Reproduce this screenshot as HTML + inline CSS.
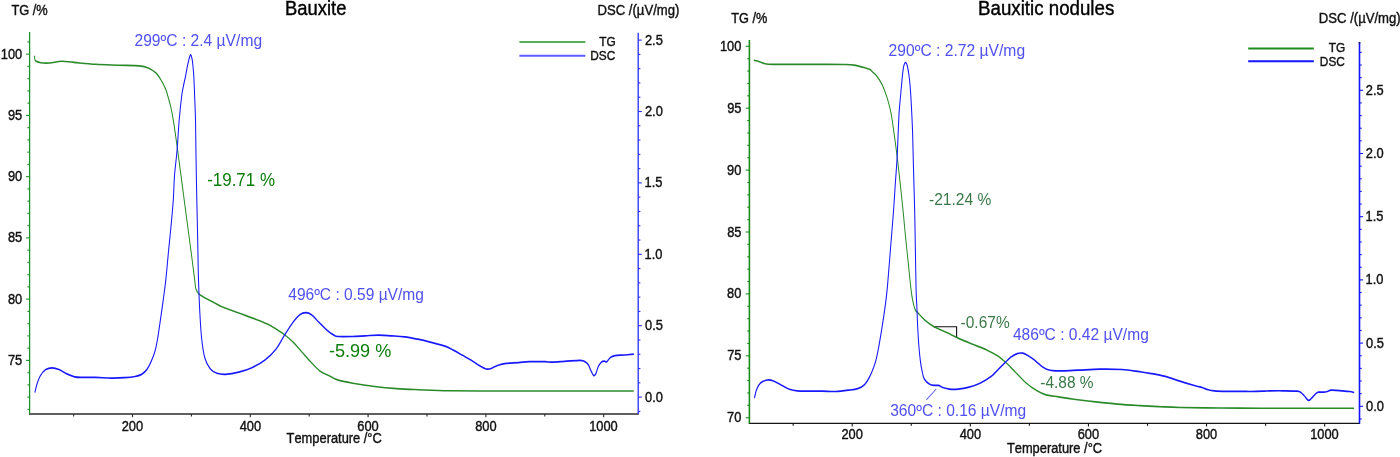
<!DOCTYPE html>
<html><head><meta charset="utf-8"><title>Bauxite TG-DSC</title>
<style>
html,body{margin:0;padding:0;background:#fff;width:1400px;height:457px;overflow:hidden}
svg{display:block}
text{font-family:"Liberation Sans",Arial,sans-serif;font-kerning:none;white-space:pre}
</style></head><body>
<svg width="1400" height="457" viewBox="0 0 1400 457">
<rect width="1400" height="457" fill="#fff"/>
<line x1="29" y1="414" x2="638.8" y2="414" stroke="#2a2a2a" stroke-width="1.6"/>
<line x1="73.6" y1="414" x2="73.6" y2="416.4" stroke="#2a2a2a" stroke-width="1.1"/>
<line x1="132.5" y1="414" x2="132.5" y2="417.2" stroke="#2a2a2a" stroke-width="1.1"/>
<text x="121.71" y="430.5" font-size="13.94" fill="#111" stroke="#111" stroke-width="0.4" textLength="21.44" lengthAdjust="spacingAndGlyphs">200</text>
<line x1="191.4" y1="414" x2="191.4" y2="416.4" stroke="#2a2a2a" stroke-width="1.1"/>
<line x1="250.3" y1="414" x2="250.3" y2="417.2" stroke="#2a2a2a" stroke-width="1.1"/>
<text x="239.68" y="430.5" font-size="13.94" fill="#111" stroke="#111" stroke-width="0.4" textLength="21.44" lengthAdjust="spacingAndGlyphs">400</text>
<line x1="309.2" y1="414" x2="309.2" y2="416.4" stroke="#2a2a2a" stroke-width="1.1"/>
<line x1="368.1" y1="414" x2="368.1" y2="417.2" stroke="#2a2a2a" stroke-width="1.1"/>
<text x="357.3" y="430.5" font-size="13.94" fill="#111" stroke="#111" stroke-width="0.4" textLength="21.44" lengthAdjust="spacingAndGlyphs">600</text>
<line x1="427" y1="414" x2="427" y2="416.4" stroke="#2a2a2a" stroke-width="1.1"/>
<line x1="485.9" y1="414" x2="485.9" y2="417.2" stroke="#2a2a2a" stroke-width="1.1"/>
<text x="475.15" y="430.5" font-size="13.94" fill="#111" stroke="#111" stroke-width="0.4" textLength="21.44" lengthAdjust="spacingAndGlyphs">800</text>
<line x1="544.8" y1="414" x2="544.8" y2="416.4" stroke="#2a2a2a" stroke-width="1.1"/>
<line x1="603.7" y1="414" x2="603.7" y2="417.2" stroke="#2a2a2a" stroke-width="1.1"/>
<text x="589.17" y="430.5" font-size="13.94" fill="#111" stroke="#111" stroke-width="0.4" textLength="28.59" lengthAdjust="spacingAndGlyphs">1000</text>
<line x1="29.6" y1="32" x2="29.6" y2="414" stroke="#22922a" stroke-width="1.3"/>
<line x1="27.4" y1="409.4" x2="29.6" y2="409.4" stroke="#22922a" stroke-width="1.1"/>
<line x1="27.4" y1="397.15" x2="29.6" y2="397.15" stroke="#22922a" stroke-width="1.1"/>
<line x1="27.4" y1="384.9" x2="29.6" y2="384.9" stroke="#22922a" stroke-width="1.1"/>
<line x1="27.4" y1="372.65" x2="29.6" y2="372.65" stroke="#22922a" stroke-width="1.1"/>
<line x1="26" y1="360.4" x2="29.6" y2="360.4" stroke="#22922a" stroke-width="1.1"/>
<text x="7.95" y="364.9" font-size="13.94" fill="#111" stroke="#111" stroke-width="0.4" textLength="14.29" lengthAdjust="spacingAndGlyphs">75</text>
<line x1="27.4" y1="348.15" x2="29.6" y2="348.15" stroke="#22922a" stroke-width="1.1"/>
<line x1="27.4" y1="335.9" x2="29.6" y2="335.9" stroke="#22922a" stroke-width="1.1"/>
<line x1="27.4" y1="323.65" x2="29.6" y2="323.65" stroke="#22922a" stroke-width="1.1"/>
<line x1="27.4" y1="311.4" x2="29.6" y2="311.4" stroke="#22922a" stroke-width="1.1"/>
<line x1="26" y1="299.15" x2="29.6" y2="299.15" stroke="#22922a" stroke-width="1.1"/>
<text x="7.91" y="303.65" font-size="13.94" fill="#111" stroke="#111" stroke-width="0.4" textLength="14.29" lengthAdjust="spacingAndGlyphs">80</text>
<line x1="27.4" y1="286.9" x2="29.6" y2="286.9" stroke="#22922a" stroke-width="1.1"/>
<line x1="27.4" y1="274.65" x2="29.6" y2="274.65" stroke="#22922a" stroke-width="1.1"/>
<line x1="27.4" y1="262.4" x2="29.6" y2="262.4" stroke="#22922a" stroke-width="1.1"/>
<line x1="27.4" y1="250.15" x2="29.6" y2="250.15" stroke="#22922a" stroke-width="1.1"/>
<line x1="26" y1="237.9" x2="29.6" y2="237.9" stroke="#22922a" stroke-width="1.1"/>
<text x="7.95" y="242.4" font-size="13.94" fill="#111" stroke="#111" stroke-width="0.4" textLength="14.29" lengthAdjust="spacingAndGlyphs">85</text>
<line x1="27.4" y1="225.65" x2="29.6" y2="225.65" stroke="#22922a" stroke-width="1.1"/>
<line x1="27.4" y1="213.4" x2="29.6" y2="213.4" stroke="#22922a" stroke-width="1.1"/>
<line x1="27.4" y1="201.15" x2="29.6" y2="201.15" stroke="#22922a" stroke-width="1.1"/>
<line x1="27.4" y1="188.9" x2="29.6" y2="188.9" stroke="#22922a" stroke-width="1.1"/>
<line x1="26" y1="176.65" x2="29.6" y2="176.65" stroke="#22922a" stroke-width="1.1"/>
<text x="7.91" y="181.15" font-size="13.94" fill="#111" stroke="#111" stroke-width="0.4" textLength="14.29" lengthAdjust="spacingAndGlyphs">90</text>
<line x1="27.4" y1="164.4" x2="29.6" y2="164.4" stroke="#22922a" stroke-width="1.1"/>
<line x1="27.4" y1="152.15" x2="29.6" y2="152.15" stroke="#22922a" stroke-width="1.1"/>
<line x1="27.4" y1="139.9" x2="29.6" y2="139.9" stroke="#22922a" stroke-width="1.1"/>
<line x1="27.4" y1="127.65" x2="29.6" y2="127.65" stroke="#22922a" stroke-width="1.1"/>
<line x1="26" y1="115.4" x2="29.6" y2="115.4" stroke="#22922a" stroke-width="1.1"/>
<text x="7.95" y="119.9" font-size="13.94" fill="#111" stroke="#111" stroke-width="0.4" textLength="14.29" lengthAdjust="spacingAndGlyphs">95</text>
<line x1="27.4" y1="103.15" x2="29.6" y2="103.15" stroke="#22922a" stroke-width="1.1"/>
<line x1="27.4" y1="90.9" x2="29.6" y2="90.9" stroke="#22922a" stroke-width="1.1"/>
<line x1="27.4" y1="78.65" x2="29.6" y2="78.65" stroke="#22922a" stroke-width="1.1"/>
<line x1="27.4" y1="66.4" x2="29.6" y2="66.4" stroke="#22922a" stroke-width="1.1"/>
<line x1="26" y1="54.15" x2="29.6" y2="54.15" stroke="#22922a" stroke-width="1.1"/>
<text x="0.76" y="58.65" font-size="13.94" fill="#111" stroke="#111" stroke-width="0.4" textLength="21.44" lengthAdjust="spacingAndGlyphs">100</text>
<line x1="27.4" y1="41.9" x2="29.6" y2="41.9" stroke="#22922a" stroke-width="1.1"/>
<line x1="638.2" y1="32.7" x2="638.2" y2="414" stroke="#2b2bff" stroke-width="1.3"/>
<line x1="638.2" y1="411.38" x2="640.4" y2="411.38" stroke="#2b2bff" stroke-width="1.1"/>
<line x1="638.2" y1="397.1" x2="641.8" y2="397.1" stroke="#2b2bff" stroke-width="1.1"/>
<text x="645.1" y="401.5" font-size="13.94" fill="#111" stroke="#111" stroke-width="0.4" textLength="17.86" lengthAdjust="spacingAndGlyphs">0.0</text>
<line x1="638.2" y1="382.82" x2="640.4" y2="382.82" stroke="#2b2bff" stroke-width="1.1"/>
<line x1="638.2" y1="368.54" x2="640.4" y2="368.54" stroke="#2b2bff" stroke-width="1.1"/>
<line x1="638.2" y1="354.26" x2="640.4" y2="354.26" stroke="#2b2bff" stroke-width="1.1"/>
<line x1="638.2" y1="339.98" x2="640.4" y2="339.98" stroke="#2b2bff" stroke-width="1.1"/>
<line x1="638.2" y1="325.7" x2="641.8" y2="325.7" stroke="#2b2bff" stroke-width="1.1"/>
<text x="645.1" y="330.1" font-size="13.94" fill="#111" stroke="#111" stroke-width="0.4" textLength="17.86" lengthAdjust="spacingAndGlyphs">0.5</text>
<line x1="638.2" y1="311.42" x2="640.4" y2="311.42" stroke="#2b2bff" stroke-width="1.1"/>
<line x1="638.2" y1="297.14" x2="640.4" y2="297.14" stroke="#2b2bff" stroke-width="1.1"/>
<line x1="638.2" y1="282.86" x2="640.4" y2="282.86" stroke="#2b2bff" stroke-width="1.1"/>
<line x1="638.2" y1="268.58" x2="640.4" y2="268.58" stroke="#2b2bff" stroke-width="1.1"/>
<line x1="638.2" y1="254.3" x2="641.8" y2="254.3" stroke="#2b2bff" stroke-width="1.1"/>
<text x="644.62" y="258.7" font-size="13.94" fill="#111" stroke="#111" stroke-width="0.4" textLength="17.86" lengthAdjust="spacingAndGlyphs">1.0</text>
<line x1="638.2" y1="240.02" x2="640.4" y2="240.02" stroke="#2b2bff" stroke-width="1.1"/>
<line x1="638.2" y1="225.74" x2="640.4" y2="225.74" stroke="#2b2bff" stroke-width="1.1"/>
<line x1="638.2" y1="211.46" x2="640.4" y2="211.46" stroke="#2b2bff" stroke-width="1.1"/>
<line x1="638.2" y1="197.18" x2="640.4" y2="197.18" stroke="#2b2bff" stroke-width="1.1"/>
<line x1="638.2" y1="182.9" x2="641.8" y2="182.9" stroke="#2b2bff" stroke-width="1.1"/>
<text x="644.62" y="187.3" font-size="13.94" fill="#111" stroke="#111" stroke-width="0.4" textLength="17.86" lengthAdjust="spacingAndGlyphs">1.5</text>
<line x1="638.2" y1="168.62" x2="640.4" y2="168.62" stroke="#2b2bff" stroke-width="1.1"/>
<line x1="638.2" y1="154.34" x2="640.4" y2="154.34" stroke="#2b2bff" stroke-width="1.1"/>
<line x1="638.2" y1="140.06" x2="640.4" y2="140.06" stroke="#2b2bff" stroke-width="1.1"/>
<line x1="638.2" y1="125.78" x2="640.4" y2="125.78" stroke="#2b2bff" stroke-width="1.1"/>
<line x1="638.2" y1="111.5" x2="641.8" y2="111.5" stroke="#2b2bff" stroke-width="1.1"/>
<text x="644.95" y="115.9" font-size="13.94" fill="#111" stroke="#111" stroke-width="0.4" textLength="17.86" lengthAdjust="spacingAndGlyphs">2.0</text>
<line x1="638.2" y1="97.22" x2="640.4" y2="97.22" stroke="#2b2bff" stroke-width="1.1"/>
<line x1="638.2" y1="82.94" x2="640.4" y2="82.94" stroke="#2b2bff" stroke-width="1.1"/>
<line x1="638.2" y1="68.66" x2="640.4" y2="68.66" stroke="#2b2bff" stroke-width="1.1"/>
<line x1="638.2" y1="54.38" x2="640.4" y2="54.38" stroke="#2b2bff" stroke-width="1.1"/>
<line x1="638.2" y1="40.1" x2="641.8" y2="40.1" stroke="#2b2bff" stroke-width="1.1"/>
<text x="644.95" y="44.5" font-size="13.94" fill="#111" stroke="#111" stroke-width="0.4" textLength="17.86" lengthAdjust="spacingAndGlyphs">2.5</text>
<line x1="748.8" y1="423.4" x2="1360.1" y2="423.4" stroke="#141414" stroke-width="1.4"/>
<line x1="793.14" y1="423.4" x2="793.14" y2="425.8" stroke="#141414" stroke-width="1.1"/>
<line x1="852.2" y1="423.4" x2="852.2" y2="426.6" stroke="#141414" stroke-width="1.1"/>
<text x="841.41" y="438.9" font-size="13.94" fill="#111" stroke="#111" stroke-width="0.4" textLength="21.44" lengthAdjust="spacingAndGlyphs">200</text>
<line x1="911.26" y1="423.4" x2="911.26" y2="425.8" stroke="#141414" stroke-width="1.1"/>
<line x1="970.32" y1="423.4" x2="970.32" y2="426.6" stroke="#141414" stroke-width="1.1"/>
<text x="959.7" y="438.9" font-size="13.94" fill="#111" stroke="#111" stroke-width="0.4" textLength="21.44" lengthAdjust="spacingAndGlyphs">400</text>
<line x1="1029.38" y1="423.4" x2="1029.38" y2="425.8" stroke="#141414" stroke-width="1.1"/>
<line x1="1088.44" y1="423.4" x2="1088.44" y2="426.6" stroke="#141414" stroke-width="1.1"/>
<text x="1077.64" y="438.9" font-size="13.94" fill="#111" stroke="#111" stroke-width="0.4" textLength="21.44" lengthAdjust="spacingAndGlyphs">600</text>
<line x1="1147.5" y1="423.4" x2="1147.5" y2="425.8" stroke="#141414" stroke-width="1.1"/>
<line x1="1206.56" y1="423.4" x2="1206.56" y2="426.6" stroke="#141414" stroke-width="1.1"/>
<text x="1195.81" y="438.9" font-size="13.94" fill="#111" stroke="#111" stroke-width="0.4" textLength="21.44" lengthAdjust="spacingAndGlyphs">800</text>
<line x1="1265.62" y1="423.4" x2="1265.62" y2="425.8" stroke="#141414" stroke-width="1.1"/>
<line x1="1324.68" y1="423.4" x2="1324.68" y2="426.6" stroke="#141414" stroke-width="1.1"/>
<text x="1310.15" y="438.9" font-size="13.94" fill="#111" stroke="#111" stroke-width="0.4" textLength="28.59" lengthAdjust="spacingAndGlyphs">1000</text>
<line x1="749.4" y1="40.1" x2="749.4" y2="423.4" stroke="#1c8c1c" stroke-width="1.6"/>
<line x1="745.8" y1="417.7" x2="749.4" y2="417.7" stroke="#1c8c1c" stroke-width="1.1"/>
<text x="727.11" y="422.2" font-size="13.94" fill="#111" stroke="#111" stroke-width="0.4" textLength="14.29" lengthAdjust="spacingAndGlyphs">70</text>
<line x1="747.2" y1="405.32" x2="749.4" y2="405.32" stroke="#1c8c1c" stroke-width="1.1"/>
<line x1="747.2" y1="392.94" x2="749.4" y2="392.94" stroke="#1c8c1c" stroke-width="1.1"/>
<line x1="747.2" y1="380.56" x2="749.4" y2="380.56" stroke="#1c8c1c" stroke-width="1.1"/>
<line x1="747.2" y1="368.18" x2="749.4" y2="368.18" stroke="#1c8c1c" stroke-width="1.1"/>
<line x1="745.8" y1="355.8" x2="749.4" y2="355.8" stroke="#1c8c1c" stroke-width="1.1"/>
<text x="727.15" y="360.3" font-size="13.94" fill="#111" stroke="#111" stroke-width="0.4" textLength="14.29" lengthAdjust="spacingAndGlyphs">75</text>
<line x1="747.2" y1="343.42" x2="749.4" y2="343.42" stroke="#1c8c1c" stroke-width="1.1"/>
<line x1="747.2" y1="331.04" x2="749.4" y2="331.04" stroke="#1c8c1c" stroke-width="1.1"/>
<line x1="747.2" y1="318.66" x2="749.4" y2="318.66" stroke="#1c8c1c" stroke-width="1.1"/>
<line x1="747.2" y1="306.28" x2="749.4" y2="306.28" stroke="#1c8c1c" stroke-width="1.1"/>
<line x1="745.8" y1="293.9" x2="749.4" y2="293.9" stroke="#1c8c1c" stroke-width="1.1"/>
<text x="727.11" y="298.4" font-size="13.94" fill="#111" stroke="#111" stroke-width="0.4" textLength="14.29" lengthAdjust="spacingAndGlyphs">80</text>
<line x1="747.2" y1="281.52" x2="749.4" y2="281.52" stroke="#1c8c1c" stroke-width="1.1"/>
<line x1="747.2" y1="269.14" x2="749.4" y2="269.14" stroke="#1c8c1c" stroke-width="1.1"/>
<line x1="747.2" y1="256.76" x2="749.4" y2="256.76" stroke="#1c8c1c" stroke-width="1.1"/>
<line x1="747.2" y1="244.38" x2="749.4" y2="244.38" stroke="#1c8c1c" stroke-width="1.1"/>
<line x1="745.8" y1="232" x2="749.4" y2="232" stroke="#1c8c1c" stroke-width="1.1"/>
<text x="727.15" y="236.5" font-size="13.94" fill="#111" stroke="#111" stroke-width="0.4" textLength="14.29" lengthAdjust="spacingAndGlyphs">85</text>
<line x1="747.2" y1="219.62" x2="749.4" y2="219.62" stroke="#1c8c1c" stroke-width="1.1"/>
<line x1="747.2" y1="207.24" x2="749.4" y2="207.24" stroke="#1c8c1c" stroke-width="1.1"/>
<line x1="747.2" y1="194.86" x2="749.4" y2="194.86" stroke="#1c8c1c" stroke-width="1.1"/>
<line x1="747.2" y1="182.48" x2="749.4" y2="182.48" stroke="#1c8c1c" stroke-width="1.1"/>
<line x1="745.8" y1="170.1" x2="749.4" y2="170.1" stroke="#1c8c1c" stroke-width="1.1"/>
<text x="727.11" y="174.6" font-size="13.94" fill="#111" stroke="#111" stroke-width="0.4" textLength="14.29" lengthAdjust="spacingAndGlyphs">90</text>
<line x1="747.2" y1="157.72" x2="749.4" y2="157.72" stroke="#1c8c1c" stroke-width="1.1"/>
<line x1="747.2" y1="145.34" x2="749.4" y2="145.34" stroke="#1c8c1c" stroke-width="1.1"/>
<line x1="747.2" y1="132.96" x2="749.4" y2="132.96" stroke="#1c8c1c" stroke-width="1.1"/>
<line x1="747.2" y1="120.58" x2="749.4" y2="120.58" stroke="#1c8c1c" stroke-width="1.1"/>
<line x1="745.8" y1="108.2" x2="749.4" y2="108.2" stroke="#1c8c1c" stroke-width="1.1"/>
<text x="727.15" y="112.7" font-size="13.94" fill="#111" stroke="#111" stroke-width="0.4" textLength="14.29" lengthAdjust="spacingAndGlyphs">95</text>
<line x1="747.2" y1="95.82" x2="749.4" y2="95.82" stroke="#1c8c1c" stroke-width="1.1"/>
<line x1="747.2" y1="83.44" x2="749.4" y2="83.44" stroke="#1c8c1c" stroke-width="1.1"/>
<line x1="747.2" y1="71.06" x2="749.4" y2="71.06" stroke="#1c8c1c" stroke-width="1.1"/>
<line x1="747.2" y1="58.68" x2="749.4" y2="58.68" stroke="#1c8c1c" stroke-width="1.1"/>
<line x1="745.8" y1="46.3" x2="749.4" y2="46.3" stroke="#1c8c1c" stroke-width="1.1"/>
<text x="719.96" y="50.8" font-size="13.94" fill="#111" stroke="#111" stroke-width="0.4" textLength="21.44" lengthAdjust="spacingAndGlyphs">100</text>
<line x1="1359.5" y1="41.9" x2="1359.5" y2="423.4" stroke="#1414ff" stroke-width="1.6"/>
<line x1="1359.5" y1="418.94" x2="1361.7" y2="418.94" stroke="#1414ff" stroke-width="1.1"/>
<line x1="1359.5" y1="406.3" x2="1363.1" y2="406.3" stroke="#1414ff" stroke-width="1.1"/>
<text x="1366" y="410.7" font-size="13.94" fill="#111" stroke="#111" stroke-width="0.4" textLength="17.86" lengthAdjust="spacingAndGlyphs">0.0</text>
<line x1="1359.5" y1="393.66" x2="1361.7" y2="393.66" stroke="#1414ff" stroke-width="1.1"/>
<line x1="1359.5" y1="381.02" x2="1361.7" y2="381.02" stroke="#1414ff" stroke-width="1.1"/>
<line x1="1359.5" y1="368.38" x2="1361.7" y2="368.38" stroke="#1414ff" stroke-width="1.1"/>
<line x1="1359.5" y1="355.74" x2="1361.7" y2="355.74" stroke="#1414ff" stroke-width="1.1"/>
<line x1="1359.5" y1="343.1" x2="1363.1" y2="343.1" stroke="#1414ff" stroke-width="1.1"/>
<text x="1366" y="347.5" font-size="13.94" fill="#111" stroke="#111" stroke-width="0.4" textLength="17.86" lengthAdjust="spacingAndGlyphs">0.5</text>
<line x1="1359.5" y1="330.46" x2="1361.7" y2="330.46" stroke="#1414ff" stroke-width="1.1"/>
<line x1="1359.5" y1="317.82" x2="1361.7" y2="317.82" stroke="#1414ff" stroke-width="1.1"/>
<line x1="1359.5" y1="305.18" x2="1361.7" y2="305.18" stroke="#1414ff" stroke-width="1.1"/>
<line x1="1359.5" y1="292.54" x2="1361.7" y2="292.54" stroke="#1414ff" stroke-width="1.1"/>
<line x1="1359.5" y1="279.9" x2="1363.1" y2="279.9" stroke="#1414ff" stroke-width="1.1"/>
<text x="1365.52" y="284.3" font-size="13.94" fill="#111" stroke="#111" stroke-width="0.4" textLength="17.86" lengthAdjust="spacingAndGlyphs">1.0</text>
<line x1="1359.5" y1="267.26" x2="1361.7" y2="267.26" stroke="#1414ff" stroke-width="1.1"/>
<line x1="1359.5" y1="254.62" x2="1361.7" y2="254.62" stroke="#1414ff" stroke-width="1.1"/>
<line x1="1359.5" y1="241.98" x2="1361.7" y2="241.98" stroke="#1414ff" stroke-width="1.1"/>
<line x1="1359.5" y1="229.34" x2="1361.7" y2="229.34" stroke="#1414ff" stroke-width="1.1"/>
<line x1="1359.5" y1="216.7" x2="1363.1" y2="216.7" stroke="#1414ff" stroke-width="1.1"/>
<text x="1365.52" y="221.1" font-size="13.94" fill="#111" stroke="#111" stroke-width="0.4" textLength="17.86" lengthAdjust="spacingAndGlyphs">1.5</text>
<line x1="1359.5" y1="204.06" x2="1361.7" y2="204.06" stroke="#1414ff" stroke-width="1.1"/>
<line x1="1359.5" y1="191.42" x2="1361.7" y2="191.42" stroke="#1414ff" stroke-width="1.1"/>
<line x1="1359.5" y1="178.78" x2="1361.7" y2="178.78" stroke="#1414ff" stroke-width="1.1"/>
<line x1="1359.5" y1="166.14" x2="1361.7" y2="166.14" stroke="#1414ff" stroke-width="1.1"/>
<line x1="1359.5" y1="153.5" x2="1363.1" y2="153.5" stroke="#1414ff" stroke-width="1.1"/>
<text x="1365.85" y="157.9" font-size="13.94" fill="#111" stroke="#111" stroke-width="0.4" textLength="17.86" lengthAdjust="spacingAndGlyphs">2.0</text>
<line x1="1359.5" y1="140.86" x2="1361.7" y2="140.86" stroke="#1414ff" stroke-width="1.1"/>
<line x1="1359.5" y1="128.22" x2="1361.7" y2="128.22" stroke="#1414ff" stroke-width="1.1"/>
<line x1="1359.5" y1="115.58" x2="1361.7" y2="115.58" stroke="#1414ff" stroke-width="1.1"/>
<line x1="1359.5" y1="102.94" x2="1361.7" y2="102.94" stroke="#1414ff" stroke-width="1.1"/>
<line x1="1359.5" y1="90.3" x2="1363.1" y2="90.3" stroke="#1414ff" stroke-width="1.1"/>
<text x="1365.85" y="94.7" font-size="13.94" fill="#111" stroke="#111" stroke-width="0.4" textLength="17.86" lengthAdjust="spacingAndGlyphs">2.5</text>
<line x1="1359.5" y1="77.66" x2="1361.7" y2="77.66" stroke="#1414ff" stroke-width="1.1"/>
<line x1="1359.5" y1="65.02" x2="1361.7" y2="65.02" stroke="#1414ff" stroke-width="1.1"/>
<line x1="1359.5" y1="52.38" x2="1361.7" y2="52.38" stroke="#1414ff" stroke-width="1.1"/>
<text x="285.09" y="15" font-size="19.31" fill="#000" stroke="#000" stroke-width="0.4" textLength="61.33" lengthAdjust="spacingAndGlyphs">Bauxite</text>
<text x="978.07" y="14.9" font-size="19.64" fill="#000" stroke="#000" stroke-width="0.4" textLength="136.21" lengthAdjust="spacingAndGlyphs">Bauxitic nodules</text>
<text x="11.41" y="14.6" font-size="13.92" fill="#111" stroke="#111" stroke-width="0.4" textLength="36.35" lengthAdjust="spacingAndGlyphs">TG /%</text>
<text x="731.21" y="22.7" font-size="13.8" fill="#111" stroke="#111" stroke-width="0.4" textLength="36.04" lengthAdjust="spacingAndGlyphs">TG /%</text>
<text x="597.52" y="14.8" font-size="14.23" fill="#111" stroke="#111" stroke-width="0.4" textLength="81.89" lengthAdjust="spacingAndGlyphs">DSC /(µV/mg)</text>
<text x="1318.82" y="22.7" font-size="14.23" fill="#111" stroke="#111" stroke-width="0.4" textLength="81.89" lengthAdjust="spacingAndGlyphs">DSC /(µV/mg)</text>
<text x="286.61" y="443.2" font-size="13.95" fill="#111" stroke="#111" stroke-width="0.4" textLength="95.18" lengthAdjust="spacingAndGlyphs">Temperature /°C</text>
<text x="1006.91" y="452.7" font-size="13.95" fill="#111" stroke="#111" stroke-width="0.4" textLength="95.18" lengthAdjust="spacingAndGlyphs">Temperature /°C</text>
<line x1="519.4" y1="41.9" x2="585.4" y2="41.9" stroke="#55ad55" stroke-width="2"/>
<line x1="519.4" y1="55.8" x2="585.4" y2="55.8" stroke="#5c5cff" stroke-width="2"/>
<text x="599.23" y="46.3" font-size="12.86" fill="#111" stroke="#111" stroke-width="0.4" textLength="16.46" lengthAdjust="spacingAndGlyphs">TG</text>
<text x="590.23" y="59.7" font-size="12.86" fill="#111" stroke="#111" stroke-width="0.4" textLength="25.02" lengthAdjust="spacingAndGlyphs">DSC</text>
<line x1="1248.2" y1="48.4" x2="1313.8" y2="48.4" stroke="#1f8c1f" stroke-width="2"/>
<line x1="1248.2" y1="61.3" x2="1313.8" y2="61.3" stroke="#1414ff" stroke-width="2"/>
<text x="1328.83" y="51.7" font-size="12.86" fill="#111" stroke="#111" stroke-width="0.4" textLength="16.46" lengthAdjust="spacingAndGlyphs">TG</text>
<text x="1319.83" y="65.5" font-size="12.86" fill="#111" stroke="#111" stroke-width="0.4" textLength="25.02" lengthAdjust="spacingAndGlyphs">DSC</text>
<text x="134.51" y="45.6" font-size="16.25" fill="#5050f0" textLength="127.59" lengthAdjust="spacingAndGlyphs">299ºC : 2.4 µV/mg</text>
<text x="288.24" y="300.3" font-size="16.17" fill="#5050f0" textLength="135.66" lengthAdjust="spacingAndGlyphs">496ºC : 0.59 µV/mg</text>
<text x="888.61" y="55.9" font-size="16.27" fill="#5050f0" textLength="136.5" lengthAdjust="spacingAndGlyphs">290ºC : 2.72 µV/mg</text>
<text x="890.21" y="415.9" font-size="16.21" fill="#5050f0" textLength="136" lengthAdjust="spacingAndGlyphs">360ºC : 0.16 µV/mg</text>
<text x="1012.94" y="340.2" font-size="16.2" fill="#5050f0" textLength="135.86" lengthAdjust="spacingAndGlyphs">486ºC : 0.42 µV/mg</text>
<text x="207.15" y="185.9" font-size="18.4" fill="#0a7d0a" textLength="67.86" lengthAdjust="spacingAndGlyphs">-19.71 %</text>
<text x="328.9" y="357.2" font-size="18.45" fill="#0a7d0a" textLength="62.35" lengthAdjust="spacingAndGlyphs">-5.99 %</text>
<text x="929.01" y="204.6" font-size="16.87" fill="#3a7848" textLength="62.25" lengthAdjust="spacingAndGlyphs">-21.24 %</text>
<text x="960.61" y="328.1" font-size="16.79" fill="#3a7848" textLength="49.04" lengthAdjust="spacingAndGlyphs">-0.67%</text>
<text x="1040.31" y="387.7" font-size="16.76" fill="#3a7848" textLength="53.24" lengthAdjust="spacingAndGlyphs">-4.88 %</text>
<line x1="1359.5" y1="41.9" x2="1359.5" y2="43.8" stroke="#202050" stroke-width="1.6"/>
<path d="M933.6,326.7 H956.6 V337.6" fill="none" stroke="#111" stroke-width="1.1"/>
<line x1="936.2" y1="389" x2="926.4" y2="399.8" stroke="#6a6af0" stroke-width="1.1"/>
<path transform="scale(1,1.6)" d="M34.4,35.25 C34.58,35.71 34.42,37.33 35.5,38 C36.58,38.67 38.53,39.02 40.9,39.25 C43.27,39.48 46.23,39.53 49.7,39.38 C53.17,39.22 57.68,38.37 61.7,38.31 C65.72,38.25 68.15,38.69 73.8,39 C79.45,39.31 88.32,39.9 95.6,40.19 C102.88,40.48 110.2,40.58 117.5,40.75 C124.8,40.92 134.28,40.91 139.4,41.19 C144.52,41.47 145.47,41.72 148.2,42.44 C150.93,43.16 153.62,44.19 155.8,45.5 C157.98,46.81 159.65,48.6 161.3,50.31 C162.95,52.02 164.67,54.25 165.7,55.75 C166.73,57.25 166.62,57.35 167.5,59.31 C168.38,61.27 169.98,64.68 171,67.5 C172.02,70.32 172.58,72.26 173.6,76.25 C174.62,80.24 175.93,86.18 177.1,91.44 C178.27,96.7 179.42,102.22 180.6,107.81 C181.78,113.41 183.02,119.4 184.2,125 C185.38,130.6 186.53,135.97 187.7,141.44 C188.87,146.91 190.03,152.22 191.2,157.81 C192.37,163.41 193.92,171.22 194.7,175 C195.48,178.78 195.18,179.04 195.9,180.5 C196.62,181.96 197.6,182.84 199,183.75 C200.4,184.66 201.97,185.11 204.3,185.94 C206.63,186.76 210.17,187.76 213,188.69 C215.83,189.61 217,190.34 221.3,191.5 C225.6,192.66 232.97,194.26 238.8,195.62 C244.63,196.99 251.2,198.44 256.3,199.69 C261.4,200.94 265.75,201.98 269.4,203.12 C273.05,204.27 275.65,205.53 278.2,206.56 C280.75,207.59 282.15,208.06 284.7,209.31 C287.25,210.56 290.58,212.24 293.5,214.06 C296.42,215.89 299.28,218.2 302.2,220.25 C305.12,222.3 308.07,224.44 311,226.37 C313.93,228.31 316.83,230.49 319.8,231.88 C322.77,233.26 325.85,233.76 328.8,234.69 C331.75,235.61 333.5,236.64 337.5,237.44 C341.5,238.24 346.6,238.81 352.8,239.5 C359,240.19 367.4,241 374.7,241.56 C382,242.12 389.3,242.54 396.6,242.88 C403.9,243.21 409.6,243.33 418.5,243.56 C427.4,243.79 436.42,244.11 450,244.25 C463.58,244.39 484.17,244.35 500,244.38 C515.83,244.4 530,244.38 545,244.38 C560,244.38 575.27,244.38 590,244.38 C604.73,244.38 626.17,244.38 633.4,244.38" fill="none" stroke="#2a8a2a" stroke-width="1" stroke-linejoin="round" stroke-linecap="round"/>
<path transform="scale(1,1.6)" d="M35,244.94 C35.37,244.04 36.28,241.27 37.2,239.56 C38.12,237.85 39.07,236.12 40.5,234.69 C41.93,233.25 43.83,231.74 45.8,230.94 C47.77,230.14 50.12,229.88 52.3,229.88 C54.48,229.88 56.48,230.3 58.9,230.94 C61.32,231.57 64.18,232.93 66.8,233.69 C69.42,234.45 71.98,235.14 74.6,235.5 C77.22,235.86 78.98,235.81 82.5,235.87 C86.02,235.94 90.88,235.8 95.7,235.87 C100.52,235.95 106.58,236.28 111.4,236.31 C116.22,236.34 120.65,236.23 124.6,236.06 C128.55,235.9 132.27,235.66 135.1,235.31 C137.93,234.97 139.63,234.73 141.6,234 C143.57,233.27 145.37,232.2 146.9,230.94 C148.43,229.68 149.48,228.28 150.8,226.44 C152.12,224.59 153.7,222.2 154.8,219.88 C155.9,217.55 156.6,215.24 157.4,212.5 C158.2,209.76 158.65,207.5 159.6,203.44 C160.55,199.38 162.07,192.86 163.1,188.12 C164.13,183.39 164.92,180.05 165.8,175 C166.68,169.95 167.53,163.41 168.4,157.81 C169.27,152.22 170.18,146.91 171,141.44 C171.82,135.97 172.72,130.24 173.3,125 C173.88,119.76 173.87,115.23 174.5,110 C175.13,104.77 176.32,99.46 177.1,93.62 C177.88,87.79 178.43,80.62 179.2,75 C179.97,69.38 180.97,63.49 181.7,59.87 C182.43,56.26 182.97,55.32 183.6,53.31 C184.23,51.3 184.92,49.65 185.5,47.81 C186.08,45.98 186.55,44.05 187.1,42.31 C187.65,40.57 188.22,38.71 188.8,37.37 C189.38,36.04 190.03,34.31 190.6,34.31 C191.17,34.31 191.78,36.04 192.2,37.37 C192.62,38.71 192.82,40.42 193.1,42.31 C193.38,44.21 193.63,45.65 193.9,48.75 C194.17,51.85 194.43,56.56 194.7,60.94 C194.97,65.31 195.28,69.01 195.5,75 C195.72,80.99 195.78,88.54 196,96.88 C196.22,105.21 196.53,116.67 196.8,125 C197.07,133.33 197.32,138.54 197.6,146.88 C197.88,155.21 198.13,166.99 198.5,175 C198.87,183.01 199.28,188.89 199.8,194.94 C200.32,200.99 200.77,206.53 201.6,211.31 C202.43,216.09 203.35,220.43 204.8,223.62 C206.25,226.82 208.28,228.9 210.3,230.5 C212.32,232.1 214.35,232.68 216.9,233.25 C219.45,233.82 221.95,234.05 225.6,233.94 C229.25,233.82 234.42,233.25 238.8,232.56 C243.18,231.88 247.53,231.07 251.9,229.81 C256.27,228.55 260.98,226.94 265,225 C269.02,223.06 272.72,220.8 276,218.19 C279.28,215.57 281.78,212.17 284.7,209.31 C287.62,206.46 290.93,203.19 293.5,201.06 C296.07,198.94 298.05,197.5 300.1,196.56 C302.15,195.62 303.9,195.41 305.8,195.44 C307.7,195.47 309.23,195.71 311.5,196.75 C313.77,197.79 316.77,200.05 319.4,201.69 C322.03,203.32 324.9,205.27 327.3,206.56 C329.7,207.85 332.05,208.81 333.8,209.44 C335.55,210.06 334.73,210.17 337.8,210.31 C340.87,210.46 347.62,210.39 352.2,210.31 C356.78,210.24 360.92,210.02 365.3,209.88 C369.68,209.73 374.12,209.44 378.5,209.44 C382.88,209.44 387.23,209.7 391.6,209.88 C395.97,210.05 400.33,210.15 404.7,210.5 C409.07,210.85 413.42,211.43 417.8,212 C422.18,212.57 426.47,213.22 431,213.94 C435.53,214.66 441.2,215.47 445,216.31 C448.8,217.16 450.88,218.04 453.8,219 C456.72,219.96 459.58,221.03 462.5,222.06 C465.42,223.09 468.38,224.08 471.3,225.19 C474.22,226.29 477.52,227.78 480,228.69 C482.48,229.59 484.45,230.33 486.2,230.62 C487.95,230.92 488.62,230.8 490.5,230.44 C492.38,230.07 494.87,228.99 497.5,228.44 C500.13,227.89 502.78,227.43 506.3,227.12 C509.82,226.82 514.8,226.8 518.6,226.62 C522.4,226.45 524.7,226.16 529.1,226.06 C533.5,225.97 541.13,226.01 545,226.06 C548.87,226.11 549.05,226.41 552.3,226.37 C555.55,226.34 559.92,226.07 564.5,225.87 C569.08,225.68 576.48,225.19 579.8,225.19 C583.12,225.19 583,225.44 584.4,225.87 C585.8,226.31 587.18,226.94 588.2,227.81 C589.22,228.69 589.6,229.97 590.5,231.12 C591.4,232.28 592.7,234.35 593.6,234.75 C594.5,235.15 595.13,234.42 595.9,233.5 C596.67,232.58 597.3,230.44 598.2,229.25 C599.1,228.06 600.28,226.97 601.3,226.37 C602.32,225.78 603.42,225.72 604.3,225.69 C605.18,225.66 605.58,226.55 606.6,226.19 C607.62,225.82 609,224.15 610.4,223.5 C611.8,222.85 612.7,222.58 615,222.31 C617.3,222.04 621.13,222.03 624.2,221.88 C627.27,221.72 631.87,221.46 633.4,221.37" fill="none" stroke="#1818ff" stroke-width="1.05" stroke-linejoin="round" stroke-linecap="round"/>
<path transform="scale(1,1.6)" d="M754.2,37.75 C754.97,37.86 757.32,38.16 758.8,38.44 C760.28,38.72 761.47,39.15 763.1,39.44 C764.73,39.73 765.32,40.06 768.6,40.19 C771.88,40.32 776.78,40.21 782.8,40.22 C788.82,40.22 797.4,40.22 804.7,40.22 C812,40.22 820.22,40.2 826.6,40.22 C832.98,40.23 838.45,40.23 843,40.31 C847.55,40.39 850.25,40.35 853.9,40.69 C857.55,41.02 862.22,41.84 864.9,42.31 C867.58,42.78 868.73,43.06 870,43.5 C871.27,43.94 871.33,44.24 872.5,44.94 C873.67,45.64 875.37,46.32 877,47.69 C878.63,49.05 880.85,51.3 882.3,53.12 C883.75,54.95 884.83,57.17 885.7,58.62 C886.57,60.08 886.62,59.88 887.5,61.88 C888.38,63.88 889.98,67.4 891,70.62 C892.02,73.85 892.58,76.74 893.6,81.25 C894.62,85.76 896.02,92.22 897.1,97.69 C898.18,103.16 899.12,108.47 900.1,114.06 C901.08,119.66 902.1,125.65 903,131.25 C903.9,136.85 904.63,142.22 905.5,147.69 C906.37,153.16 907.27,158.47 908.2,164.06 C909.13,169.66 910.35,177.29 911.1,181.25 C911.85,185.21 912.03,185.78 912.7,187.81 C913.37,189.84 914.3,192.19 915.1,193.44 C915.9,194.69 915.75,194.14 917.5,195.31 C919.25,196.49 922.92,199.05 925.6,200.5 C928.28,201.95 929.95,202.75 933.6,204 C937.25,205.25 943.67,206.85 947.5,208 C951.33,209.15 952.63,209.73 956.6,210.87 C960.57,212.02 966.3,213.57 971.3,214.88 C976.3,216.18 982.23,217.44 986.6,218.69 C990.97,219.94 994.22,221.02 997.5,222.38 C1000.78,223.73 1003.37,225.15 1006.3,226.81 C1009.23,228.48 1011.82,230.29 1015.1,232.38 C1018.38,234.46 1022.42,237.35 1026,239.31 C1029.58,241.27 1033.38,242.91 1036.6,244.12 C1039.82,245.34 1041.65,245.97 1045.3,246.62 C1048.95,247.28 1053.75,247.57 1058.5,248.06 C1063.25,248.55 1067.6,249.04 1073.8,249.56 C1080,250.08 1088.42,250.69 1095.7,251.19 C1102.98,251.69 1110.22,252.18 1117.5,252.56 C1124.78,252.95 1132.32,253.23 1139.4,253.5 C1146.48,253.77 1153.23,253.99 1160,254.19 C1166.77,254.39 1170,254.55 1180,254.69 C1190,254.82 1206.67,254.93 1220,255 C1233.33,255.07 1246.67,255.09 1260,255.12 C1273.33,255.16 1284.38,255.18 1300,255.19 C1315.62,255.2 1344.75,255.19 1353.7,255.19" fill="none" stroke="#2a8a2a" stroke-width="1" stroke-linejoin="round" stroke-linecap="round"/>
<path transform="scale(1,1.6)" d="M754.6,248.37 C754.93,247.55 755.62,244.94 756.6,243.44 C757.58,241.94 758.75,240.36 760.5,239.38 C762.25,238.39 764.92,237.71 767.1,237.5 C769.28,237.29 771.2,237.58 773.6,238.12 C776,238.67 778.87,239.9 781.5,240.75 C784.13,241.6 786.77,242.66 789.4,243.25 C792.03,243.84 794.02,244.11 797.3,244.31 C800.58,244.51 804.95,244.42 809.1,244.44 C813.25,244.46 817.82,244.4 822.2,244.44 C826.58,244.48 831.02,244.78 835.4,244.69 C839.78,244.59 844.78,244.18 848.5,243.87 C852.22,243.57 855.08,243.42 857.7,242.88 C860.32,242.33 862.23,241.82 864.2,240.62 C866.17,239.43 868.03,237.35 869.5,235.69 C870.97,234.02 871.92,232.41 873,230.62 C874.08,228.84 875.02,227.4 876,225 C876.98,222.6 877.83,219.9 878.9,216.25 C879.97,212.6 881.38,207.14 882.4,203.12 C883.42,199.11 884.22,195.83 885,192.19 C885.78,188.54 886.37,185.94 887.1,181.25 C887.83,176.56 888.67,169.66 889.4,164.06 C890.13,158.47 890.8,153.16 891.5,147.69 C892.2,142.22 892.95,136.85 893.6,131.25 C894.25,125.65 894.82,119.48 895.4,114.06 C895.98,108.65 896.62,104.22 897.1,98.75 C897.58,93.28 897.95,86.11 898.3,81.25 C898.65,76.39 898.82,73.16 899.2,69.56 C899.58,65.97 900.22,62.36 900.6,59.69 C900.98,57.01 901.17,55.73 901.5,53.5 C901.83,51.27 902.22,48.36 902.6,46.31 C902.98,44.26 903.3,42.4 903.8,41.19 C904.3,39.98 905.02,39.06 905.6,39.06 C906.18,39.06 906.77,39.98 907.3,41.19 C907.83,42.4 908.33,44.26 908.8,46.31 C909.27,48.36 909.7,50.54 910.1,53.5 C910.5,56.46 910.8,59.44 911.2,64.06 C911.6,68.69 912.13,74.74 912.5,81.25 C912.87,87.76 913.04,94.79 913.4,103.12 C913.76,111.46 914.33,122.92 914.65,131.25 C914.97,139.58 915.06,144.79 915.3,153.12 C915.54,161.46 915.83,174.74 916.1,181.25 C916.37,187.76 916.65,188.54 916.9,192.19 C917.15,195.83 917.28,199.22 917.6,203.12 C917.92,207.03 918.32,211.77 918.8,215.62 C919.28,219.48 919.92,223.44 920.5,226.25 C921.08,229.06 921.68,230.75 922.3,232.5 C922.92,234.25 922.97,235.47 924.2,236.75 C925.43,238.03 927.87,239.5 929.7,240.19 C931.53,240.88 933.73,240.76 935.2,240.87 C936.67,240.99 937.23,240.66 938.5,240.87 C939.77,241.09 940.98,241.8 942.8,242.19 C944.62,242.57 946.85,243.02 949.4,243.19 C951.95,243.35 954.82,243.4 958.1,243.19 C961.38,242.98 965.45,242.55 969.1,241.94 C972.75,241.32 976.35,240.59 980,239.5 C983.65,238.41 987.35,237.2 991,235.38 C994.65,233.55 998.62,230.57 1001.9,228.56 C1005.18,226.55 1008.15,224.57 1010.7,223.31 C1013.25,222.05 1015.2,221.43 1017.2,221 C1019.2,220.57 1020.87,220.53 1022.7,220.75 C1024.53,220.97 1026.35,221.65 1028.2,222.31 C1030.05,222.98 1032.08,223.93 1033.8,224.75 C1035.52,225.57 1036.95,226.46 1038.5,227.25 C1040.05,228.04 1041.52,228.86 1043.1,229.5 C1044.68,230.14 1046.43,230.7 1048,231.06 C1049.57,231.43 1050.03,231.56 1052.5,231.69 C1054.97,231.81 1058.52,231.86 1062.8,231.81 C1067.08,231.76 1072,231.56 1078.2,231.37 C1084.4,231.19 1092.72,230.76 1100,230.69 C1107.28,230.61 1115.33,230.67 1121.9,230.94 C1128.47,231.21 1134.72,231.92 1139.4,232.31 C1144.08,232.71 1145.68,232.82 1150,233.31 C1154.32,233.8 1160.2,234.41 1165.3,235.25 C1170.4,236.09 1175.48,237.37 1180.6,238.37 C1185.72,239.37 1192.42,240.61 1196,241.25 C1199.58,241.89 1200.07,241.79 1202.1,242.19 C1204.13,242.58 1206.17,243.27 1208.2,243.62 C1210.23,243.98 1211.23,244.15 1214.3,244.31 C1217.37,244.48 1222,244.57 1226.6,244.62 C1231.2,244.68 1238,244.61 1241.9,244.62 C1245.8,244.64 1246.47,244.71 1250,244.69 C1253.53,244.67 1259.82,244.57 1263.1,244.5 C1266.38,244.43 1266.42,244.29 1269.7,244.25 C1272.98,244.21 1278.2,244.21 1282.8,244.25 C1287.4,244.29 1294.23,244.29 1297.3,244.5 C1300.37,244.71 1300,244.99 1301.2,245.5 C1302.4,246.01 1303.3,246.77 1304.5,247.56 C1305.7,248.35 1307.2,250.04 1308.4,250.25 C1309.6,250.46 1310.6,249.44 1311.7,248.81 C1312.8,248.19 1313.9,247.11 1315,246.5 C1316.1,245.89 1316.88,245.35 1318.3,245.12 C1319.72,244.9 1321.98,245.2 1323.5,245.12 C1325.02,245.05 1326.08,244.9 1327.4,244.69 C1328.72,244.48 1328.98,243.95 1331.4,243.87 C1333.82,243.8 1338.83,244.11 1341.9,244.25 C1344.97,244.39 1347.83,244.52 1349.8,244.69 C1351.77,244.85 1353.05,245.16 1353.7,245.25" fill="none" stroke="#1818ff" stroke-width="1.05" stroke-linejoin="round" stroke-linecap="round"/>
</svg>
</body></html>
